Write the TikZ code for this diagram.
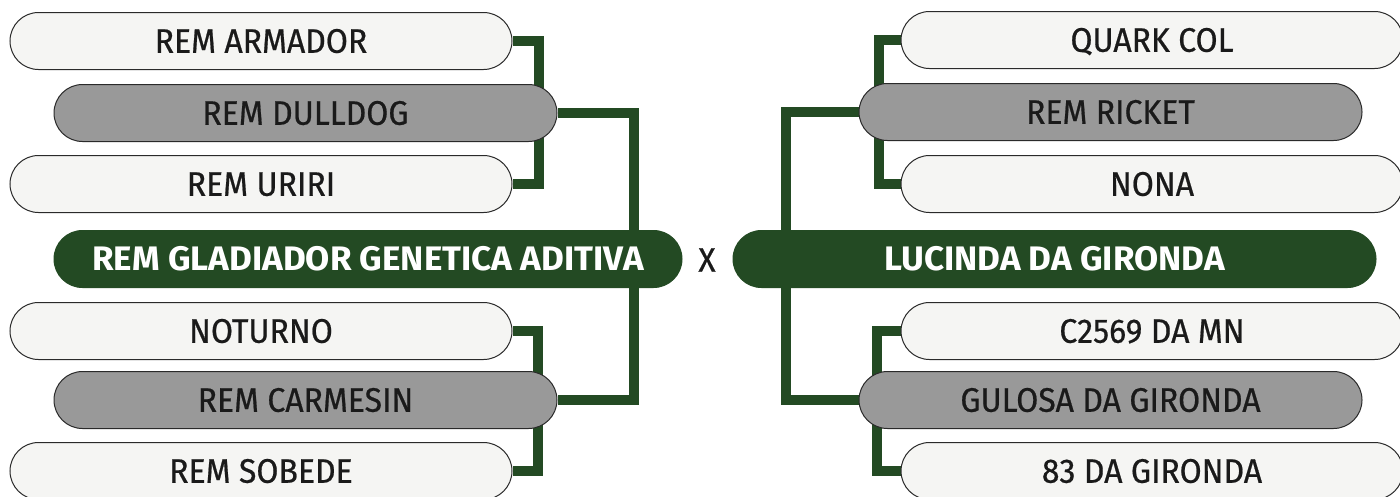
\documentclass[tikz,border=0pt]{standalone}
\usepackage{fontspec}
\setmainfont{Fira Sans}
\newfontfamily\lblfont{Fira Sans}[FakeStretch=0.94, FakeBold=0.6]
\newfontfamily\mainfont{Fira Sans}[FakeStretch=1.03]
\usetikzlibrary{calc}
\definecolor{dgreen}{HTML}{234A23}
\definecolor{lightfill}{HTML}{F5F5F3}
\definecolor{grayfill}{HTML}{999999}
\definecolor{edgegray}{HTML}{2A2A2A}
\definecolor{txt}{HTML}{1A1A1A}
\pgfdeclarelayer{bg}
\pgfsetlayers{bg,main}
\tikzset{
  pill/.style={rectangle, rounded corners=28.5pt, minimum height=57pt, inner sep=0pt,
    draw=edgegray, line width=1pt, text=txt, font=\lblfont\fontsize{34}{34}\selectfont,
    text height=23.5pt, text depth=0pt},
  lightbox/.style={pill, fill=lightfill, minimum width=502pt},
  graybox/.style={pill, fill=grayfill, minimum width=503pt},
  mainbox/.style={pill, draw=dgreen, fill=dgreen, text=white, font=\mainfont\fontsize{34}{34}\bfseries},
  conn/.style={draw=dgreen, line width=10pt, line join=miter}
}
\begin{document}
\begin{tikzpicture}[x=1pt,y=-1pt]
\useasboundingbox (0,0) rectangle (1400,496);
% left tree
\node[lightbox] (armador) at (261,41) {REM ARMADOR};
\node[graybox] (dulldog) at (305.5,113) {REM DULLDOG};
\node[lightbox] (uriri) at (261,184) {REM URIRI};
\node[mainbox, minimum width=628pt] (gladiador) at (368,259) {REM GLADIADOR GENETICA ADITIVA};
\node[lightbox] (noturno) at (261,331) {NOTURNO};
\node[graybox] (carmesin) at (305.5,400) {REM CARMESIN};
\node[lightbox] (sobede) at (261,471) {REM SOBEDE};
% centre
\node[text=txt, font=\lblfont\fontsize{34}{34}\selectfont, inner sep=0pt] (x) at (707,260) {X};
% right tree
\node[lightbox] (quark) at (1152,40) {QUARK COL};
\node[graybox] (ricket) at (1110.5,112) {REM RICKET};
\node[lightbox] (nona) at (1152,184) {NONA};
\node[mainbox, minimum width=643pt] (lucinda) at (1054.5,259) {LUCINDA DA GIRONDA};
\node[lightbox] (c2569) at (1152,331) {C2569 DA MN};
\node[graybox] (gulosa) at (1110.5,400) {GULOSA DA GIRONDA};
\node[lightbox] (o83) at (1152,471) {83 DA GIRONDA};
% connectors
\begin{pgfonlayer}{bg}
\draw[conn] (armador.east) -- ++(26,0) |- (uriri.east);
\draw[conn] (noturno.east) -- ++(25,0) |- (sobede.east);
\draw[conn] (dulldog.east) -- ++(76,0) |- (carmesin.east);
\draw[conn] (quark.west) -- ++(-22,0) |- (nona.west);
\draw[conn] (c2569.west) -- ++(-24,0) |- (o83.west);
\draw[conn] (ricket.west) -- ++(-73,0) |- (gulosa.west);
\end{pgfonlayer}
\end{tikzpicture}
\end{document}
